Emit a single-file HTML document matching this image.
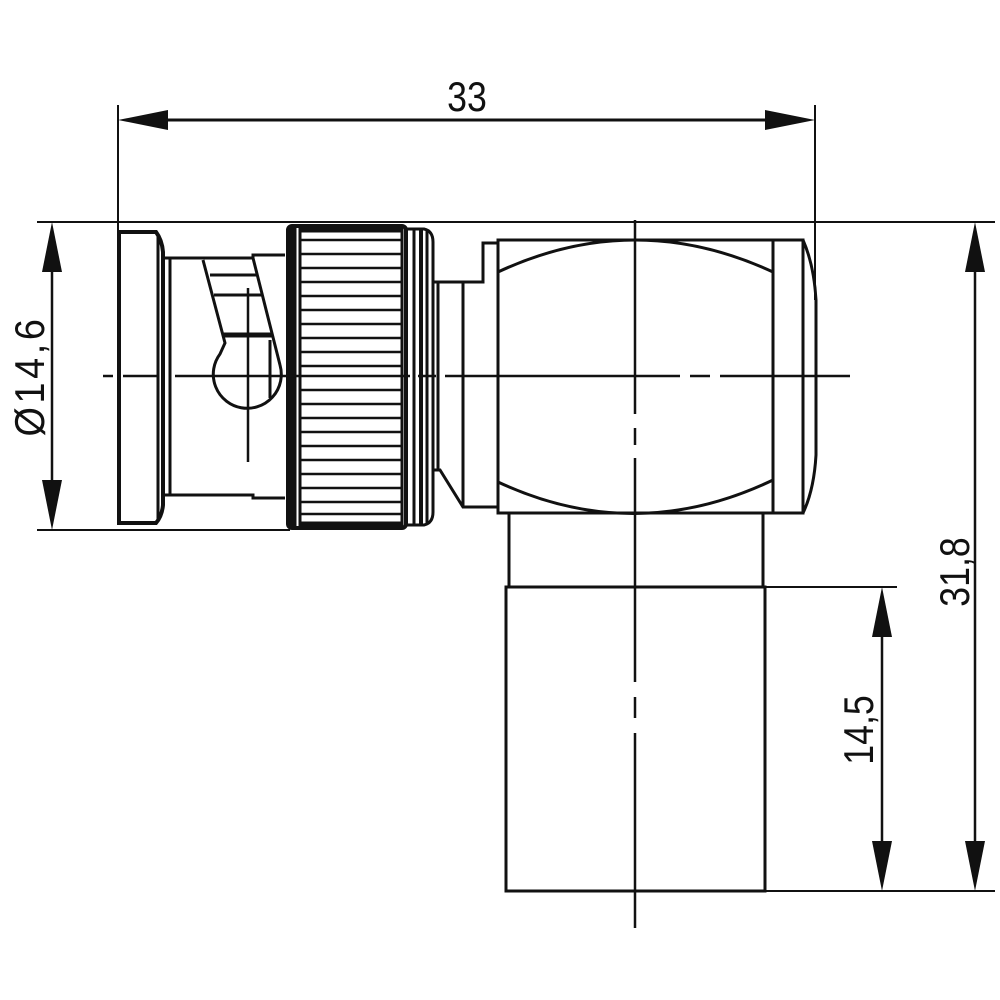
<!DOCTYPE html>
<html><head><meta charset="utf-8"><style>
html,body{margin:0;padding:0;background:#fff}
svg{display:block}
text{font-family:"Liberation Sans",sans-serif;fill:#111}
</style></head><body>
<svg width="1000" height="1000" viewBox="0 0 1000 1000" xmlns="http://www.w3.org/2000/svg">
<g stroke="#111" fill="none" stroke-width="2.5">
<line x1="118" y1="105" x2="118" y2="232" stroke-width="2"/>
<line x1="815" y1="105" x2="815" y2="300" stroke-width="2"/>
<line x1="37" y1="222" x2="995" y2="222" stroke-width="2"/>
<line x1="37" y1="530" x2="290" y2="530" stroke-width="2"/>
<line x1="765" y1="587" x2="897" y2="587" stroke-width="2"/>
<line x1="765" y1="891" x2="995" y2="891" stroke-width="2"/>
<line x1="150" y1="120" x2="785" y2="120" stroke-width="3"/>
<line x1="52" y1="250" x2="52" y2="502" stroke-width="2.5"/>
<line x1="975" y1="250" x2="975" y2="862" stroke-width="2.5"/>
<line x1="882" y1="615" x2="882" y2="862" stroke-width="2.5"/>
</g>
<g fill="#111">
<polygon points="118,120 168,110 168,130"/>
<polygon points="815,120 765,110 765,130"/>
<polygon points="52,222 42,272 62,272"/>
<polygon points="52,530 42,480 62,480"/>
<polygon points="975,222 965,272 985,272"/>
<polygon points="975,891 965,841 985,841"/>
<polygon points="882,587 872,637 892,637"/>
<polygon points="882,891 872,841 892,841"/>
</g>
<text x="467" y="111" font-size="42" text-anchor="middle" transform="translate(467 0) scale(0.85 1) translate(-467 0)">33</text>
<text transform="translate(44 376) rotate(-90) scale(0.9 1)" font-size="42" text-anchor="middle" letter-spacing="4">Ø14,6</text>
<text transform="translate(969 572) rotate(-90) scale(0.85 1)" font-size="42" text-anchor="middle">31,8</text>
<text transform="translate(873 730) rotate(-90) scale(0.85 1)" font-size="42" text-anchor="middle">14,5</text>

<g stroke="#111" fill="none" stroke-width="3">
<path d="M119,232 L156,232 Q162,240 163,252 L163,505 Q162,516 156,523 L119,523 Z" stroke-width="4"/>
<line x1="158" y1="234" x2="158" y2="521" stroke-width="3"/>
<path d="M163,258 L253,258 L253,255 L285,255 M163,495 L253,495 L253,498 L285,498"/>
<line x1="170" y1="258" x2="170" y2="495"/>
<path d="M203,260 L225,343 L220,354 A34,34 0 1 0 280,365 L253,258"/>
<line x1="210" y1="275" x2="257" y2="275"/>
<line x1="214" y1="295" x2="262" y2="295"/>
<line x1="222" y1="335" x2="272" y2="335" stroke-width="5"/>
<line x1="270" y1="340" x2="270" y2="398"/>
<line x1="248" y1="288" x2="248" y2="462" stroke-width="2.5"/>
<rect x="288" y="226" width="118" height="302" rx="4" stroke-width="4"/>
<line x1="293" y1="228" x2="293" y2="526" stroke-width="7"/>
<line x1="300" y1="228" x2="300" y2="526"/>
<line x1="402" y1="228" x2="402" y2="526"/>
<line x1="300" y1="230" x2="402" y2="230" stroke-width="5"/>
<line x1="300" y1="524" x2="402" y2="524" stroke-width="5"/>
</g>
<g stroke="#111" stroke-width="2.5">
<line x1="300" y1="240" x2="402" y2="240"/><line x1="300" y1="254" x2="402" y2="254"/>
<line x1="300" y1="268" x2="402" y2="268"/><line x1="300" y1="282" x2="402" y2="282"/>
<line x1="300" y1="296" x2="402" y2="296"/><line x1="300" y1="310" x2="402" y2="310"/>
<line x1="300" y1="324" x2="402" y2="324"/><line x1="300" y1="338" x2="402" y2="338"/>
<line x1="300" y1="352" x2="402" y2="352"/><line x1="300" y1="366" x2="402" y2="366"/>
<line x1="300" y1="390" x2="402" y2="390"/><line x1="300" y1="404" x2="402" y2="404"/>
<line x1="300" y1="418" x2="402" y2="418"/><line x1="300" y1="432" x2="402" y2="432"/>
<line x1="300" y1="446" x2="402" y2="446"/><line x1="300" y1="460" x2="402" y2="460"/>
<line x1="300" y1="474" x2="402" y2="474"/><line x1="300" y1="488" x2="402" y2="488"/>
<line x1="300" y1="502" x2="402" y2="502"/><line x1="300" y1="514" x2="402" y2="514"/>
</g>
<g stroke="#111" fill="none" stroke-width="3">
<path d="M406,229 L424,229 Q433,231 433,242 L433,512 Q433,523 424,525 L406,525"/>
<line x1="414" y1="230" x2="414" y2="524"/>
<line x1="421" y1="230" x2="421" y2="524" stroke-width="4"/>
<line x1="427" y1="230" x2="427" y2="524"/>
<path d="M433,282 L483,282 L483,243 L498,243"/>
<line x1="438" y1="282" x2="438" y2="470"/>
<line x1="463" y1="282" x2="463" y2="507"/>
<path d="M433,470 L440,470 L463,507 L498,507"/>
<rect x="498" y="240" width="305" height="273"/>
<line x1="773" y1="240" x2="773" y2="513"/>
<path d="M498,272 Q635,208 773,272"/>
<path d="M498,482 Q635,546 773,480"/>
<path d="M803,240 Q814,265 816,300 L816,455 Q814,490 803,513"/>
<line x1="509" y1="513" x2="509" y2="587"/>
<line x1="763" y1="513" x2="763" y2="587"/>
<rect x="506" y="587" width="259" height="304"/>
</g>
<g stroke="#111" stroke-width="2.5">
<line x1="103" y1="376" x2="113" y2="376"/>
<line x1="123" y1="376" x2="158" y2="376"/>
<line x1="175" y1="376" x2="410" y2="376"/>
<line x1="418" y1="376" x2="436" y2="376"/>
<line x1="445" y1="376" x2="680" y2="376"/>
<line x1="690" y1="376" x2="710" y2="376"/>
<line x1="720" y1="376" x2="850" y2="376"/>
<line x1="635" y1="220" x2="635" y2="414"/>
<line x1="635" y1="428" x2="635" y2="445"/>
<line x1="635" y1="458" x2="635" y2="682"/>
<line x1="635" y1="697" x2="635" y2="718"/>
<line x1="635" y1="733" x2="635" y2="928"/>
</g>
</svg>
</body></html>
